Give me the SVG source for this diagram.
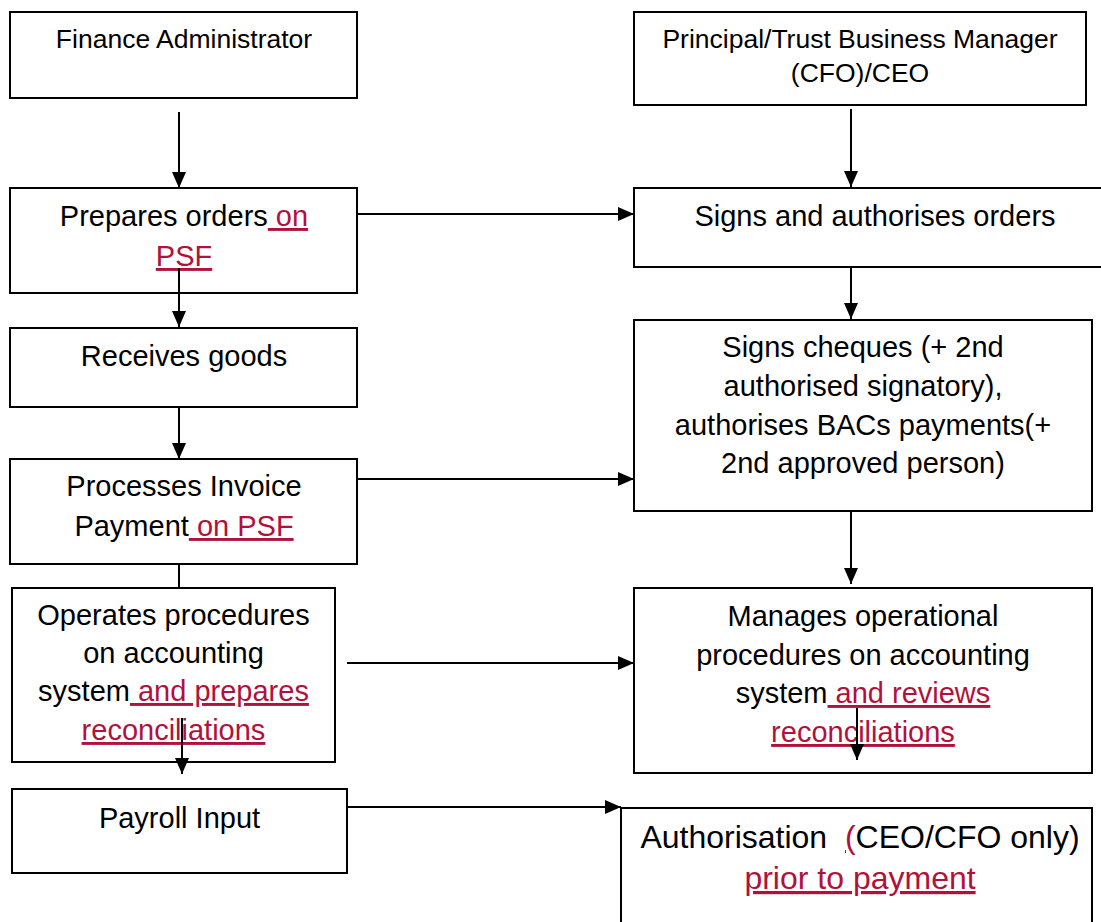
<svg xmlns="http://www.w3.org/2000/svg" width="1101" height="922" viewBox="0 0 1101 922">
<style>
  .box { fill: #fff; stroke: #000; stroke-width: 2; }
  .t { font-family: "Liberation Sans", Arial, sans-serif; fill: #000; text-anchor: middle; }
  .s { font-size: 26.5px; }
  .m { font-size: 29px; }
  .l { font-size: 32px; }
  .red { fill: #B1113A; text-decoration: underline; }
  .conn line { stroke: #000; stroke-width: 2; }
</style>
<defs>
  <marker id="arr" markerUnits="userSpaceOnUse" markerWidth="16" markerHeight="14" refX="16" refY="7" orient="auto">
    <path d="M0,0 L16,7 L0,14 z" fill="#000"/>
  </marker>
</defs>
<rect width="1101" height="922" fill="#fff"/>

<g id="finance-admin">
  <rect class="box" x="10" y="12" width="347" height="86"/>
  <text class="t s" x="184" y="48">Finance Administrator</text>
</g>
<g id="principal">
  <rect class="box" x="634" y="12" width="452" height="93"/>
  <text class="t s" x="860" y="48">Principal/Trust Business Manager</text>
  <text class="t s" x="860" y="82">(CFO)/CEO</text>
</g>
<g id="prepares">
  <rect class="box" x="10" y="188" width="347" height="105"/>
  <text class="t m" x="184" y="226">Prepares orders<tspan class="red"> on</tspan></text>
  <text class="t m" x="184" y="266"><tspan class="red">PSF</tspan></text>
</g>
<g id="signs-orders">
  <rect class="box" x="634" y="188" width="482" height="79"/>
  <text class="t m" x="875" y="226">Signs and authorises orders</text>
</g>
<g id="receives">
  <rect class="box" x="10" y="328" width="347" height="79"/>
  <text class="t m" x="184" y="366">Receives goods</text>
</g>
<g id="signs-cheques">
  <rect class="box" x="634" y="320" width="458" height="191"/>
  <text class="t m" x="863" y="357">Signs cheques (+ 2nd</text>
  <text class="t m" x="863" y="396">authorised signatory),</text>
  <text class="t m" x="863" y="435">authorises BACs payments(+</text>
  <text class="t m" x="863" y="473">2nd approved person)</text>
</g>
<g id="processes">
  <rect class="box" x="10" y="459" width="347" height="105"/>
  <text class="t m" x="184" y="496">Processes Invoice</text>
  <text class="t m" x="184" y="536">Payment<tspan class="red"> on PSF</tspan></text>
</g>
<g id="operates">
  <rect class="box" x="12" y="588" width="323" height="174"/>
  <text class="t m" x="173.5" y="625">Operates procedures</text>
  <text class="t m" x="173.5" y="663">on accounting</text>
  <text class="t m" x="173.5" y="701">system<tspan class="red"> and prepares</tspan></text>
  <text class="t m" x="173.5" y="740"><tspan class="red">reconciliations</tspan></text>
</g>
<g id="manages">
  <rect class="box" x="634" y="588" width="458" height="185"/>
  <text class="t m" x="863" y="626">Manages operational</text>
  <text class="t m" x="863" y="665">procedures on accounting</text>
  <text class="t m" x="863" y="703">system<tspan class="red"> and reviews</tspan></text>
  <text class="t m" x="863" y="742"><tspan class="red">reconciliations</tspan></text>
</g>
<g id="payroll">
  <rect class="box" x="12" y="789" width="335" height="84"/>
  <text class="t m" x="179.5" y="828">Payroll Input</text>
</g>
<g id="authorisation">
  <rect class="box" x="621" y="808" width="471" height="130"/>
  <text class="t l" x="860" y="848" style="white-space:pre">Authorisation  <tspan class="red">(</tspan>CEO/CFO only)</text>
  <text class="t l" x="860" y="889"><tspan class="red">prior to payment</tspan></text>
</g>

<g id="connectors" class="conn">
  <line x1="179" y1="112" x2="179" y2="188" marker-end="url(#arr)"/>
  <line x1="851" y1="109" x2="851" y2="187" marker-end="url(#arr)"/>
  <line x1="357" y1="214" x2="634" y2="214" marker-end="url(#arr)"/>
  <line x1="851" y1="267" x2="851" y2="319" marker-end="url(#arr)"/>
  <line x1="179" y1="268" x2="179" y2="327" marker-end="url(#arr)"/>
  <line x1="179" y1="407" x2="179" y2="459" marker-end="url(#arr)"/>
  <line x1="357" y1="479" x2="634" y2="479" marker-end="url(#arr)"/>
  <line x1="851" y1="511" x2="851" y2="584" marker-end="url(#arr)"/>
  <line x1="179" y1="564" x2="179" y2="588"/>
  <line x1="347" y1="663" x2="634" y2="663" marker-end="url(#arr)"/>
  <line x1="182" y1="718" x2="182" y2="774" marker-end="url(#arr)"/>
  <line x1="857" y1="708" x2="857" y2="760" marker-end="url(#arr)"/>
  <line x1="347" y1="807" x2="621" y2="807" marker-end="url(#arr)"/>
</g>
</svg>
